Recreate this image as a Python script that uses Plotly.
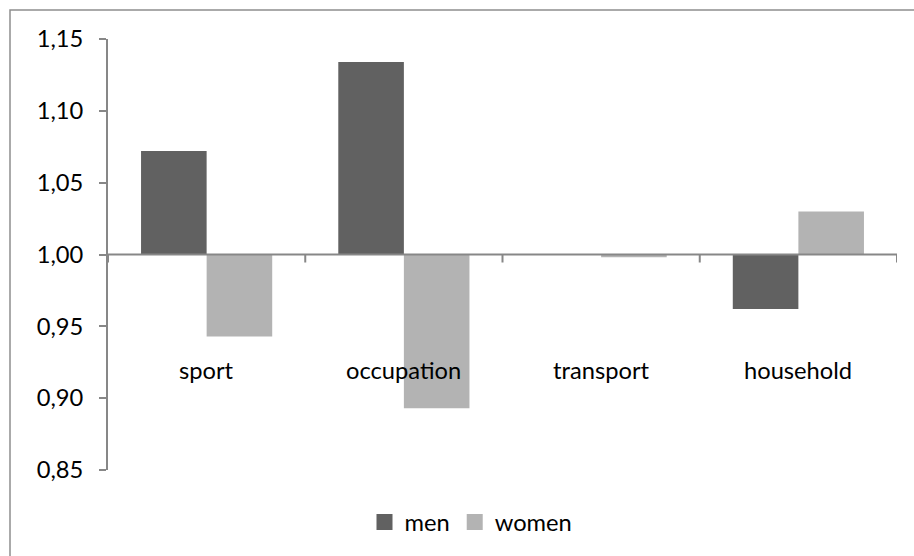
import plotly.graph_objects as go

# Ratios relative to the reference level of 1.00
categories = ["sport", "occupation", "transport", "household"]
men = [1.072, 1.134, 1.000, 0.962]
women = [0.943, 0.893, 0.998, 1.030]
series_names = ["men", "women"]
colors = ["#616161", "#b3b3b3"]
y_ticks = [0.85, 0.90, 0.95, 1.00, 1.05, 1.10, 1.15]
y_ticktext = [f"{v:.2f}".replace(".", ",") for v in y_ticks]

BASE = 1.0
FONT = "Lato, Carlito, Calibri, sans-serif"
FONT_SIZE = 23.7
AXIS_COLOR = "#878787"

fig = go.Figure()
for name, vals, col in zip(series_names, [men, women], colors):
    fig.add_trace(go.Bar(
        x=categories,
        y=[v - BASE for v in vals],
        base=[BASE] * len(vals),
        name=name,
        marker=dict(color=col, line=dict(width=0)),
        showlegend=False,
        hoverinfo="skip",
    ))
    # legend entry with a larger square swatch
    fig.add_trace(go.Scatter(
        x=[None], y=[None], mode="markers", name=name,
        marker=dict(symbol="square", size=16, color=col),
    ))

shapes = []
# horizontal category axis crossing at 1.00
shapes.append(dict(type="line", xref="paper", yref="y", x0=0, x1=1, y0=BASE, y1=BASE,
                   line=dict(color=AXIS_COLOR, width=2), layer="above"))
# category boundary tick marks hanging below the axis
for i in range(len(categories) + 1):
    shapes.append(dict(type="line", xref="x", yref="y", ysizemode="pixel", yanchor=BASE,
                       x0=i - 0.5, x1=i - 0.5, y0=0, y1=-8,
                       line=dict(color=AXIS_COLOR, width=2), layer="above"))
# chart frame
shapes.append(dict(type="rect", xref="paper", yref="paper",
                   x0=(10 - 108) / 789, x1=1.2, y0=(470 - 10) / 431, y1=-0.4,
                   line=dict(color="#8e8e8e", width=1.5), fillcolor="rgba(0,0,0,0)",
                   layer="above"))

annotations = [
    dict(x=c, y=BASE, xref="x", yref="y", text=c, showarrow=False,
         yanchor="middle", yshift=-115,
         font=dict(family=FONT, size=FONT_SIZE, color="#000000"))
    for c in categories
]

fig.update_layout(
    width=914, height=556,
    margin=dict(l=108, r=17, t=39, b=86),
    paper_bgcolor="white", plot_bgcolor="white",
    barmode="group", bargap=0.335, bargroupgap=0,
    font=dict(family=FONT, size=FONT_SIZE, color="#000000"),
    shapes=shapes,
    annotations=annotations,
    showlegend=True,
    legend=dict(orientation="h", xref="paper", yref="paper",
                x=(471 - 108) / 789, xanchor="center",
                y=(470 - 522) / 431, yanchor="middle",
                font=dict(family=FONT, size=FONT_SIZE, color="#000000"),
                itemsizing="trace", tracegroupgap=0, bgcolor="rgba(0,0,0,0)"),
)
fig.update_xaxes(showticklabels=False, showgrid=False, zeroline=False, showline=False,
                 ticks="", range=[-0.5, len(categories) - 0.5], fixedrange=True)
fig.update_yaxes(range=[0.85, 1.15], tickvals=y_ticks, ticktext=y_ticktext,
                 showgrid=False, zeroline=False, showline=True, linecolor=AXIS_COLOR,
                 linewidth=2, ticks="outside", ticklen=7, tickcolor=AXIS_COLOR, tickwidth=2,
                 ticklabelstandoff=11,
                 tickfont=dict(family=FONT, size=FONT_SIZE, color="#000000"),
                 fixedrange=True)

fig.write_html("out.html")
